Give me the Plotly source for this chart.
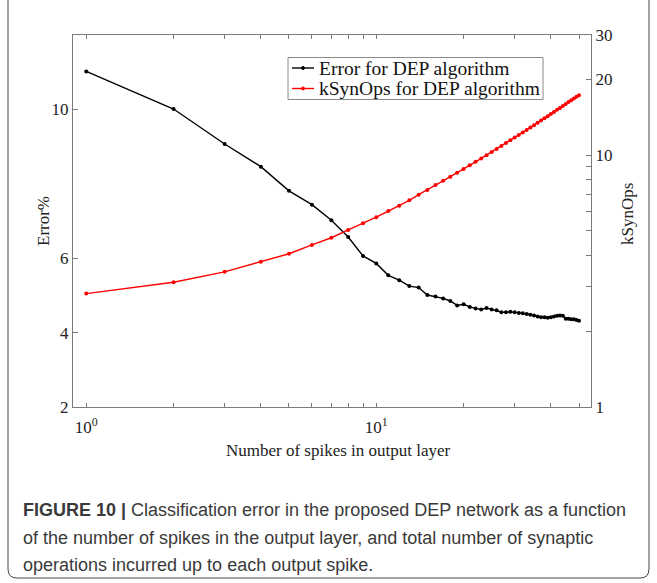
import math
import plotly.graph_objects as go

# ---------------- data ----------------
spikes = list(range(1, 51))

error_pct = [11.02, 10.01, 9.07, 8.46, 7.81, 7.44, 7.02, 6.57, 6.06, 5.86,
             5.54, 5.41, 5.25, 5.21, 5.01, 4.97, 4.92, 4.85, 4.73, 4.76,
             4.69, 4.65, 4.62, 4.66, 4.62, 4.60, 4.55, 4.55, 4.56, 4.55,
             4.53, 4.52, 4.50, 4.48, 4.46, 4.43, 4.41, 4.41, 4.40, 4.41,
             4.43, 4.45, 4.46, 4.45, 4.37, 4.37, 4.36, 4.36, 4.34, 4.32]

ksynops = [2.82, 3.13, 3.44, 3.77, 4.06, 4.40, 4.70, 5.05, 5.36, 5.67,
           6.00, 6.30, 6.62, 6.97, 7.27, 7.61, 7.91, 8.21, 8.52, 8.82,
           9.12, 9.41, 9.71, 10.00, 10.30, 10.59, 10.88, 11.17, 11.46, 11.74,
           12.03, 12.31, 12.59, 12.88, 13.16, 13.45, 13.72, 14.00, 14.28, 14.56,
           14.84, 15.13, 15.40, 15.68, 15.96, 16.24, 16.52, 16.78, 17.06, 17.30]

x_tickvals = [1, 2, 3, 4, 5, 6, 7, 8, 9, 10, 20, 30, 40, 50]
x_ticktext = ["10<sup>0</sup>", "", "", "", "", "", "", "", "",
              "10<sup>1</sup>", "", "", "", ""]
y_left_tickvals = [2, 4, 6, 10]
y_right_tickvals = [1, 2, 3, 4, 5, 6, 7, 8, 9, 10, 20, 30]
y_right_ticktext = ["1", "", "", "", "", "", "", "", "", "10", "20", "30"]

series_names = ["Error for DEP algorithm", "kSynOps for DEP algorithm"]
series_colors = ["#000000", "#ff0000"]
caption_lines = [
    "<b>FIGURE 10 |</b> Classification error in the proposed DEP network as a function",
    "of the number of spikes in the output layer, and total number of synaptic",
    "operations incurred up to each output spike.",
]

# ---------------- layout geometry ----------------
W, H = 657, 583
L, R, T, B = 73, 591, 35, 407


def px(x):
    return (x - L) / (R - L)


def py(y):
    return (B - y) / (B - T)


serif = "Liberation Serif, Times New Roman, serif"
sans = "Liberation Sans, Arial, Helvetica, sans-serif"
axis_col = "#7a7a7a"

fig = go.Figure()
fig.add_trace(go.Scatter(
    x=spikes, y=error_pct, mode="lines+markers", name=series_names[0],
    line=dict(color=series_colors[0], width=1.4),
    marker=dict(color=series_colors[0], size=4),
))
fig.add_trace(go.Scatter(
    x=spikes, y=ksynops, mode="lines+markers", name=series_names[1],
    yaxis="y2",
    line=dict(color=series_colors[1], width=1.4),
    marker=dict(color=series_colors[1], size=4),
))

fig.update_layout(
    width=W, height=H,
    margin=dict(l=L, r=W - R, t=T, b=H - B, pad=0),
    paper_bgcolor="white", plot_bgcolor="white",
    font=dict(family=serif, color="#222"),
    showlegend=False,
    xaxis=dict(
        type="log", range=[math.log10(0.9), math.log10(55)],
        tickvals=x_tickvals, ticktext=x_ticktext,
        ticks="inside", ticklen=4, tickcolor=axis_col,
        showline=True, linecolor=axis_col, linewidth=1, mirror="ticks",
        showgrid=False, zeroline=False, ticklabelstandoff=5,
        tickfont=dict(family=serif, size=17, color="#222"),
    ),
    yaxis=dict(
        range=[2, 12], tickvals=y_left_tickvals,
        ticks="inside", ticklen=5, tickcolor=axis_col,
        showline=True, linecolor=axis_col, linewidth=1,
        showgrid=False, zeroline=False,
        tickfont=dict(family=serif, size=17, color="#222"),
    ),
    yaxis2=dict(
        type="log", range=[0, math.log10(30)], overlaying="y", side="right",
        tickvals=y_right_tickvals, ticktext=y_right_ticktext,
        ticks="inside", ticklen=5, tickcolor=axis_col,
        showline=True, linecolor=axis_col, linewidth=1,
        showgrid=False, zeroline=False,
        tickfont=dict(family=serif, size=17, color="#222"),
    ),
)

annotations = [
    dict(text="Error%", x=px(43), y=py(221), textangle=-90,
         font=dict(family=serif, size=17, color="#222")),
    dict(text="kSynOps", x=px(627), y=py(214), textangle=-90,
         font=dict(family=serif, size=17, color="#222")),
    dict(text="Number of spikes in output layer", x=px(338), y=py(451),
         font=dict(family=serif, size=17, color="#222")),
]
for i, line in enumerate(caption_lines):
    annotations.append(dict(text=line, x=px(21), y=py(510 + 27.5 * i),
                            xanchor="left",
                            font=dict(family=sans, size=18, color="#3a3a3a")))

# ---- legend (box, sample line + marker, label) ----
shapes = []
leg_x0, leg_x1, leg_y0, leg_y1 = 288, 543, 57.5, 99.5
shapes.append(dict(type="rect", x0=px(leg_x0), x1=px(leg_x1),
                   y0=py(leg_y0), y1=py(leg_y1),
                   line=dict(color="#8a8a8a", width=1), fillcolor="white",
                   layer="above"))
for i, (name, col) in enumerate(zip(series_names, series_colors)):
    yc = 68 + 20.5 * i
    shapes.append(dict(type="line", x0=px(292), x1=px(314), y0=py(yc), y1=py(yc),
                       line=dict(color=col, width=1.4), layer="above"))
    shapes.append(dict(type="circle", x0=px(301.5), x1=px(304.5),
                       y0=py(yc - 1.5), y1=py(yc + 1.5),
                       line=dict(color=col, width=1), fillcolor=col,
                       layer="above"))
    annotations.append(dict(text=name, x=px(317), y=py(yc), xanchor="left",
                            font=dict(family=serif, size=19.5, color="#111")))

for a in annotations:
    a.update(xref="paper", yref="paper", showarrow=False)
    a.setdefault("xanchor", "center")
    a.setdefault("yanchor", "middle")

# outer rounded frame
x0, x1, y0, y1, r = px(8), px(649), py(-12), py(578), 9
rx, ry = r / (R - L), r / (B - T)
path = (f"M {x0+rx},{y0} L {x1-rx},{y0} Q {x1},{y0} {x1},{y0-ry} "
        f"L {x1},{y1+ry} Q {x1},{y1} {x1-rx},{y1} L {x0+rx},{y1} "
        f"Q {x0},{y1} {x0},{y1+ry} L {x0},{y0-ry} Q {x0},{y0} {x0+rx},{y0} Z")
shapes.append(dict(type="path", path=path, xref="paper", yref="paper",
                   line=dict(color="#444", width=1), layer="below"))
for s in shapes:
    s.setdefault("xref", "paper")
    s.setdefault("yref", "paper")

fig.update_layout(annotations=annotations, shapes=shapes)

fig.write_html("out.html")
